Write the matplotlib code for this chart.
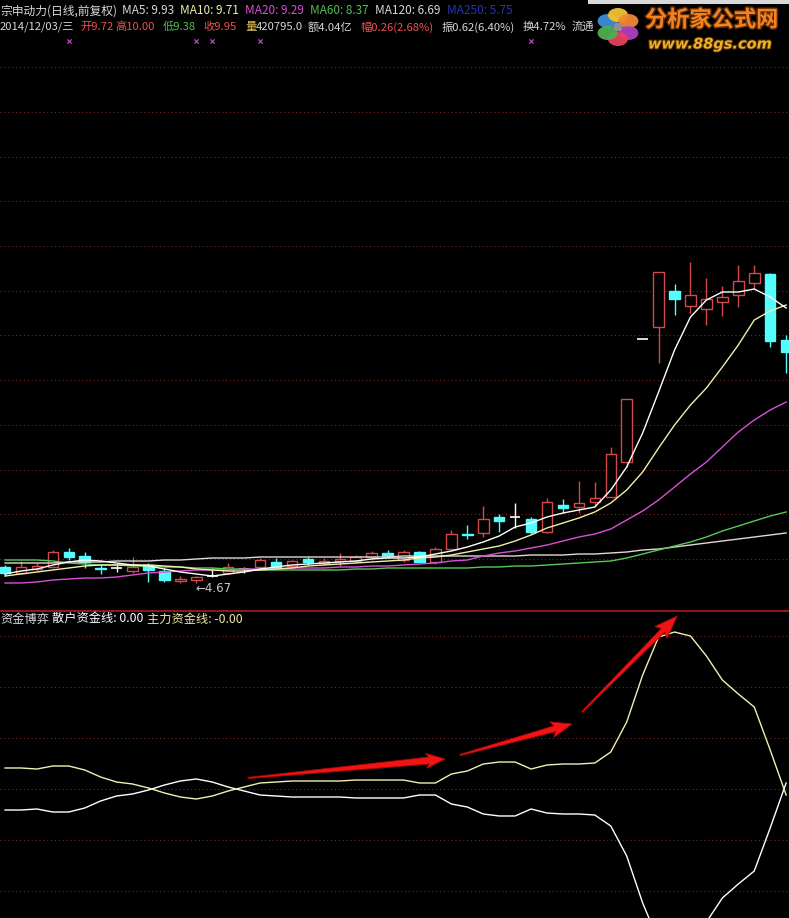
import matplotlib
matplotlib.use('Agg')
import matplotlib.pyplot as plt
import numpy as np
from matplotlib.patches import Polygon, Ellipse, Rectangle
import matplotlib.patheffects as pe
import matplotlib.transforms as mtrans

plt.rcParams['font.family'] = ['Noto Sans CJK SC', 'DejaVu Sans']

# ---------------- data ----------------
opens = [4.99, 4.87, 4.95, 4.99, 5.29, 5.21, 4.97, 4.97, 4.91, 5.03,
         4.91, 4.72, 4.73, 4.81, 4.87, 4.95, 4.99, 5.09, 5.01, 5.15,
         5.07, 5.11, 5.11, 5.19, 5.27, 5.13, 5.29, 5.09, 5.35, 5.65,
         5.67, 5.99, 5.99, 5.95, 5.69, 6.23, 6.19, 6.29, 6.39, 7.09,
         9.55, 9.79, 10.51, 10.21, 10.15, 10.29, 10.43, 10.67, 10.85, 9.53]
highs = [5.03, 5.11, 5.07, 5.33, 5.37, 5.29, 5.05, 5.05, 5.19, 5.07,
         4.97, 4.81, 4.81, 4.97, 5.07, 4.99, 5.17, 5.17, 5.13, 5.19,
         5.17, 5.27, 5.23, 5.31, 5.33, 5.33, 5.31, 5.39, 5.73, 5.83,
         6.21, 6.05, 6.27, 5.99, 6.37, 6.35, 6.71, 6.69, 7.39, 8.35,
         9.55, 10.89, 10.65, 11.09, 10.77, 10.61, 11.03, 11.03, 10.87, 9.63]
lows = [4.81, 4.85, 4.91, 4.97, 5.13, 4.97, 4.85, 4.89, 4.87, 4.69,
        4.69, 4.68, 4.67, 4.79, 4.85, 4.87, 4.97, 4.95, 4.99, 5.03,
        5.03, 5.01, 5.07, 5.13, 5.17, 5.09, 5.07, 5.05, 5.33, 5.55,
        5.59, 5.69, 5.77, 5.65, 5.67, 6.07, 6.07, 6.19, 6.39, 6.99,
        9.55, 9.07, 10.03, 10.07, 9.83, 10.01, 10.19, 10.55, 9.39, 8.87]
closes = [4.87, 4.99, 5.01, 5.29, 5.19, 5.09, 4.96, 4.97, 4.99, 4.93,
          4.73, 4.75, 4.79, 4.81, 4.99, 4.95, 5.13, 4.97, 5.11, 5.09,
          5.11, 5.15, 5.19, 5.27, 5.21, 5.29, 5.09, 5.35, 5.65, 5.64,
          5.95, 5.91, 5.99, 5.69, 6.29, 6.17, 6.27, 6.37, 7.25, 8.35,
          9.55, 10.89, 10.35, 10.43, 10.35, 10.39, 10.71, 10.87, 9.51, 9.29]

ma5 = [4.85, 4.91, 4.95, 5.03, 5.09, 5.13, 5.11, 5.07, 5.03, 5.01,
       4.95, 4.89, 4.85, 4.81, 4.85, 4.89, 4.95, 4.99, 5.03, 5.05,
       5.07, 5.09, 5.11, 5.15, 5.17, 5.17, 5.19, 5.25, 5.31, 5.39,
       5.49, 5.61, 5.79, 5.87, 5.99, 6.07, 6.13, 6.19, 6.53, 6.99,
       7.67, 8.49, 9.33, 9.99, 10.33, 10.49, 10.49, 10.55, 10.39, 10.17]
ma10 = [4.81, 4.85, 4.89, 4.93, 4.97, 5.01, 5.03, 5.03, 5.03, 5.03,
        5.01, 4.99, 4.95, 4.93, 4.91, 4.91, 4.93, 4.95, 4.97, 5.01,
        5.03, 5.05, 5.07, 5.09, 5.11, 5.13, 5.17, 5.19, 5.23, 5.29,
        5.35, 5.41, 5.51, 5.63, 5.77, 5.87, 5.97, 6.09, 6.27, 6.53,
        6.89, 7.37, 7.83, 8.23, 8.57, 8.99, 9.43, 9.93, 10.11, 10.23]
ma20 = [4.67, 4.67, 4.69, 4.73, 4.75, 4.77, 4.77, 4.79, 4.83, 4.87,
        4.89, 4.91, 4.93, 4.93, 4.93, 4.95, 4.95, 4.95, 4.97, 4.97,
        4.97, 4.99, 4.99, 5.01, 5.01, 5.03, 5.05, 5.07, 5.11, 5.13,
        5.21, 5.27, 5.31, 5.37, 5.43, 5.51, 5.59, 5.65, 5.75, 5.93,
        6.11, 6.33, 6.59, 6.85, 7.09, 7.39, 7.69, 7.93, 8.13, 8.29]
ma60 = [5.13, 5.13, 5.13, 5.11, 5.07, 5.05, 5.03, 5.03, 5.01, 5.01,
        4.99, 4.99, 4.97, 4.97, 4.95, 4.95, 4.93, 4.93, 4.93, 4.93,
        4.93, 4.93, 4.95, 4.95, 4.97, 4.97, 4.97, 4.97, 4.97, 4.97,
        4.99, 4.99, 5.01, 5.01, 5.03, 5.05, 5.07, 5.09, 5.11, 5.17,
        5.25, 5.33, 5.41, 5.49, 5.59, 5.71, 5.81, 5.91, 6.01, 6.09]
ma120 = [5.07, 5.07, 5.07, 5.07, 5.09, 5.09, 5.09, 5.11, 5.11, 5.11,
         5.13, 5.13, 5.15, 5.17, 5.17, 5.17, 5.19, 5.19, 5.19, 5.19,
         5.19, 5.19, 5.19, 5.19, 5.19, 5.21, 5.21, 5.21, 5.21, 5.21,
         5.21, 5.21, 5.21, 5.23, 5.23, 5.23, 5.25, 5.25, 5.27, 5.29,
         5.33, 5.35, 5.39, 5.43, 5.47, 5.51, 5.55, 5.59, 5.63, 5.67]

zhuli = [4.12, 4.12, 3.92, 4.51, 4.51, 3.73, 2.35, 1.37, 0.98, 0.20,
         -0.78, -1.57, -1.96, -1.37, -0.39, 0.39, 1.18, 1.37, 1.57, 1.57,
         1.57, 1.57, 1.76, 1.76, 1.76, 1.76, 1.18, 1.18, 2.94, 3.53,
         4.90, 5.29, 5.29, 3.92, 4.71, 4.90, 4.90, 5.10, 7.25, 13.14,
         22.35, 29.80, 30.78, 30.00, 26.08, 21.37, 18.63, 16.08, 7.65, -1.18]
sanhu = [-4.12, -4.12, -3.92, -4.51, -4.51, -3.73, -2.35, -1.37, -0.98, -0.20,
         0.78, 1.57, 1.96, 1.37, 0.39, -0.39, -1.18, -1.37, -1.57, -1.57,
         -1.57, -1.57, -1.76, -1.76, -1.76, -1.76, -1.18, -1.18, -2.94, -3.53,
         -4.90, -5.29, -5.29, -3.92, -4.71, -4.90, -4.90, -5.10, -7.25, -13.14,
         -22.35, -29.80, -30.78, -30.00, -26.08, -21.37, -18.63, -16.08, -7.65, 1.18]

signal_idx = [4, 12, 13, 16, 33]

# annotation arrows (index, value) in lower panel
arrow_tails = [(15.24, 2.16), (28.55, 6.67), (36.2, 15.1)]
arrow_tips = [(27.6, 5.88), (35.57, 12.75), (42.16, 33.9)]

# ---------------- figure ----------------
W, H = 789, 918
fig = plt.figure(figsize=(W / 100, H / 100), dpi=100, facecolor='black')

ax = fig.add_axes([0, (H - 610) / H, 1, 610 / H], facecolor='black')
ax2 = fig.add_axes([0, 0, 1, 307 / H], facecolor='black')

n = len(opens)
xs = np.arange(n)
xlim = (-0.314, 49.18)

RED = '#d44a4a'
CYAN = '#54fcfc'
GRID = '#7a2424'

# grid upper
for gy in [5.15 + 0.894 * k for k in range(12)]:
    ax.axhline(gy, color=GRID, lw=0.8, ls=(0, (1, 2.5)), zorder=0)

bw = 0.66
for i in range(n):
    o, h, l, c = opens[i], highs[i], lows[i], closes[i]
    if c > o:
        ax.vlines(i, c, h, color=RED, lw=1, zorder=2)
        ax.vlines(i, l, o, color=RED, lw=1, zorder=2)
        ax.add_patch(Rectangle((i - bw / 2, o), bw, c - o, facecolor='black',
                               edgecolor=RED, lw=1, zorder=2))
    elif c < o:
        ax.vlines(i, l, h, color=CYAN, lw=1, zorder=2)
        ax.add_patch(Rectangle((i - bw / 2, c), bw, o - c, facecolor=CYAN,
                               edgecolor=CYAN, lw=1, zorder=2))
    else:
        ax.vlines(i, l, h, color='white', lw=1, zorder=2)
        ax.hlines(o, i - bw / 2, i + bw / 2, color='white', lw=1.2, zorder=2)

ax.plot(xs, ma120, color='#e2d8d8', lw=1, zorder=3)
ax.plot(xs, ma60, color='#58c858', lw=1, zorder=3)
ax.plot(xs, ma20, color='#d850d8', lw=1, zorder=3)
ax.plot(xs, ma10, color='#f0f0a8', lw=1, zorder=3)
ax.plot(xs, ma5, color='#ffffff', lw=1, zorder=3)

imin = int(np.argmin(lows))
ax.annotate(f'←{lows[imin]:.2f}', xy=(imin, lows[imin]), xytext=(-1, -6),
            textcoords='offset pixels', color='#c8c8c8', fontsize=8.5,
            va='center', ha='left', family=['DejaVu Sans'])

trans = mtrans.blended_transform_factory(ax.transData, ax.transAxes)
ax.scatter(signal_idx, [1 - 41 / 610] * len(signal_idx), marker='x', s=10,
           color='#b040c0', lw=0.9, transform=trans, zorder=4)

ax.set_xlim(*xlim)
ax.set_ylim(16.33 - 610 / 50, 16.33)
ax.axis('off')

# lower panel
for gv in [-20, -10, 0, 10, 20, 30]:
    ax2.axhline(gv, color=GRID, lw=0.8, ls=(0, (1, 2.5)), zorder=0)
ax2.plot(xs, sanhu, color='#ffffff', lw=1, zorder=3)
ax2.plot(xs, zhuli, color='#f0f0b4', lw=1, zorder=3)
ax2.set_xlim(*xlim)
ax2.set_ylim((789 - 918) / 5.1, (789 - 611) / 5.1)
for s in ax2.spines.values():
    s.set_visible(False)
ax2.spines['top'].set_visible(True)
ax2.spines['top'].set_color('#a81c1c')
ax2.spines['top'].set_linewidth(1.2)
ax2.set_xticks([])
ax2.set_yticks([])

# arrows
fig.canvas.draw()
inv = fig.transFigure.inverted()
heads = [(16, 15, 7), (18, 16, 6), (20, 17, 5)]
for (t, p, (hl, hw, sw)) in zip(arrow_tails, arrow_tips, heads):
    T = np.array(ax2.transData.transform(t))
    P = np.array(ax2.transData.transform(p))
    u = (P - T) / np.linalg.norm(P - T)
    nrm = np.array([-u[1], u[0]])
    B = P - u * hl
    pts = [T + nrm * 0.6, B + nrm * sw / 2, B - u * 3 + nrm * hw / 2, P,
           B - u * 3 - nrm * hw / 2, B - nrm * sw / 2, T - nrm * 0.6]
    pts = inv.transform(np.array(pts))
    fig.add_artist(Polygon(pts, closed=True, facecolor='#f01414', edgecolor='#b00808',
                           lw=0.6, transform=fig.transFigure, zorder=10))

# ---------------- header texts ----------------
FS1 = 8.5
FS2 = 8.1


def ftxt(x, y, s, color, size, **kw):
    fig.text(x / W, 1 - y / H, s, color=color, fontsize=size, va='center', ha='left', **kw)


GRAY = '#d8d8d8'
ftxt(0, 11, '宗申动力(日线,前复权)', GRAY, FS1)
ftxt(122, 11, 'MA5: 9.93', GRAY, FS1)
ftxt(180, 11, 'MA10: 9.71', '#f0f0a8', FS1)
ftxt(245, 11, 'MA20: 9.29', '#d850d8', FS1)
ftxt(310, 11, 'MA60: 8.37', '#50c050', FS1)
ftxt(375, 11, 'MA120: 6.69', GRAY, FS1)
ftxt(447, 11, 'MA250: 5.75', '#2834b4', FS1)

ftxt(0, 27, '2014/12/03/三', GRAY, FS2)
ftxt(80, 27, '开9.72', '#f05050', FS2)
ftxt(115, 27, '高10.00', '#f05050', FS2)
ftxt(163, 27, '低9.38', '#50c050', FS2)
ftxt(203, 27, '收9.95', '#f05050', FS2)
ftxt(245, 27, '量', '#e0c050', FS2)
ftxt(256, 27, '420795.0', GRAY, FS2)
ftxt(308, 27, '额4.04亿', GRAY, FS2)
ftxt(360, 27, '幅0.26(2.68%)', '#f05050', FS2)
ftxt(442, 27, '振0.62(6.40%)', GRAY, FS2)
ftxt(523, 27, '换4.72%', GRAY, FS2)
ftxt(572, 27, '流通', GRAY, FS2)

ftxt(0, 619, '资金博弈', GRAY, 8.8)
ftxt(52, 619, '散户资金线: 0.00', '#ffffff', 8.8)
ftxt(147, 619, '主力资金线: -0.00', '#f0e8a8', 8.8)


# ---------------- logo ----------------
def px(x, y):
    return (x / W, 1 - y / H)


fig.add_artist(Rectangle(px(588, 4), 201 / W, 4 / H, facecolor='#d8d8d8',
                         edgecolor='none', transform=fig.transFigure, zorder=11))
cx, cy = 618, 27
petals = [(150, '#3d8fd8'), (90, '#f2c230'), (30, '#f08a30'),
          (-30, '#b040c0'), (-90, '#e84060'), (-150, '#50b050')]
for ang, col in petals:
    a = np.deg2rad(ang)
    ex = cx + 12 * np.cos(a)
    ey = cy - 12 * np.sin(a)
    fig.add_artist(Ellipse(px(ex, ey), 20 / W, 14 / H,
                           facecolor=col, edgecolor='none', alpha=0.95,
                           transform=fig.transFigure, zorder=11))
fig.add_artist(Ellipse(px(cx, cy), 9 / W, 9 / H, facecolor='#909090',
                       edgecolor='none', transform=fig.transFigure, zorder=12))

fig.text(645 / W, 1 - 20 / H, '分析家公式网', color='#f58220', fontsize=16,
         fontweight='bold', va='center', ha='left', zorder=12,
         path_effects=[pe.withStroke(linewidth=2, foreground='#5a2a00')])
fig.text(648 / W, 1 - 44 / H, 'www.88gs.com', color='#f0b020', fontsize=10.5,
         fontweight='bold', style='italic', family=['DejaVu Sans'],
         va='center', ha='left', zorder=12,
         path_effects=[pe.withStroke(linewidth=1.5, foreground='#4a2a00')])

fig.savefig('out.png', dpi=100, facecolor='black')
